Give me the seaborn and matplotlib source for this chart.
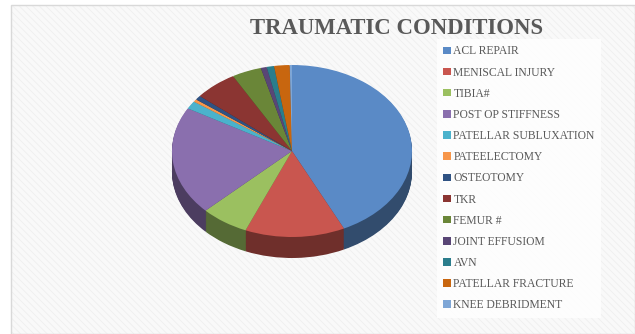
import numpy as np
import matplotlib
matplotlib.use("Agg")
import matplotlib.pyplot as plt
import matplotlib.colors as mcolors
from matplotlib.patches import Rectangle
import seaborn as sns

# Traumatic knee conditions (share of cases, %)
conditions = [
    "ACL REPAIR", "MENISCAL INJURY", "TIBIA#", "POST OP STIFFNESS",
    "PATELLAR SUBLUXATION", "PATEELECTOMY", "OSTEOTOMY", "TKR",
    "FEMUR #", "JOINT EFFUSIOM", "AVN", "PATELLAR FRACTURE",
    "KNEE DEBRIDMENT",
]
shares = [43.0, 13.5, 6.5, 20.5, 1.5, 0.5, 0.8, 5.8, 4.0, 0.8, 1.0, 2.1, 0.3]
palette = [
    "#5a8ac6", "#c9564f", "#9bc060", "#8a6fae", "#4bb2cc", "#f7964a",
    "#2f5283", "#8b3532", "#6a8638", "#594676", "#2b7d8c", "#c8660f",
    "#7ea6d6",
]

sns.set_theme(style="white")
plt.rcParams["font.family"] = ["Liberation Serif", "DejaVu Serif"]
plt.rcParams["hatch.linewidth"] = 0.6

W, H = 635, 334
fig = plt.figure(figsize=(W / 100, H / 100), dpi=100)
fig.patch.set_facecolor("white")

# chart frame with faint diagonal texture
bg = fig.add_axes([0, 0, 1, 1])
bg.set_xlim(0, W)
bg.set_ylim(H, 0)
bg.axis("off")
bg.add_patch(Rectangle((11, 5), W - 11, H - 5, facecolor="#f9f9f9",
                       edgecolor="none", zorder=0))
bg.add_patch(Rectangle((11, 5), W - 11, H - 5, facecolor="none",
                       edgecolor="#efefef", hatch="\\\\\\\\\\", linewidth=0,
                       zorder=0.5))
bg.add_patch(Rectangle((11, 5), W - 11, H - 5, facecolor="none",
                       edgecolor="#d9d9d9", linewidth=1.0, zorder=1))

fig.text(397 / W, 1 - 28 / H, "TRAUMATIC CONDITIONS", ha="center",
         va="center", fontsize=16.4, fontweight="bold", color="#595959")

# 3-D looking pie: darker stacked layers form the rim, lit face on top
rx, ry, depth_px = 120, 86, 21
depth = depth_px / ry
ax = fig.add_axes([(292 - rx) / W, (H - 237 - depth_px) / H,
                   2 * rx / W, (2 * ry + depth_px) / H])
ax.axis("off")

side_cols = [tuple(c * 0.55 for c in mcolors.to_rgb(col)) for col in palette]
n_layers = 24
for k in range(n_layers, 0, -1):
    ax.pie(shares, colors=side_cols, startangle=90, counterclock=False,
           center=(0, -depth * k / n_layers), radius=1.0,
           wedgeprops=dict(linewidth=0))
wedges, _ = ax.pie(shares, colors=palette, startangle=90, counterclock=False,
                   center=(0, 0), radius=1.0,
                   wedgeprops=dict(linewidth=0))
ax.set_aspect("auto")
ax.set_xlim(-1, 1)
ax.set_ylim(-1 - depth, 1)

leg = fig.legend(wedges, conditions, loc="upper left",
                 bbox_to_anchor=(437 / W, 1 - 39 / H),
                 frameon=True, fancybox=False, fontsize=8.35,
                 handlelength=0.62, handleheight=0.62, handletextpad=0.25,
                 labelspacing=0.79, borderpad=0.55, borderaxespad=0)
leg.get_frame().set_facecolor("white")
leg.get_frame().set_edgecolor("white")
leg.get_frame().set_linewidth(0)
for t in leg.get_texts():
    t.set_color("#595959")

fig.savefig("out.png", dpi=100)
